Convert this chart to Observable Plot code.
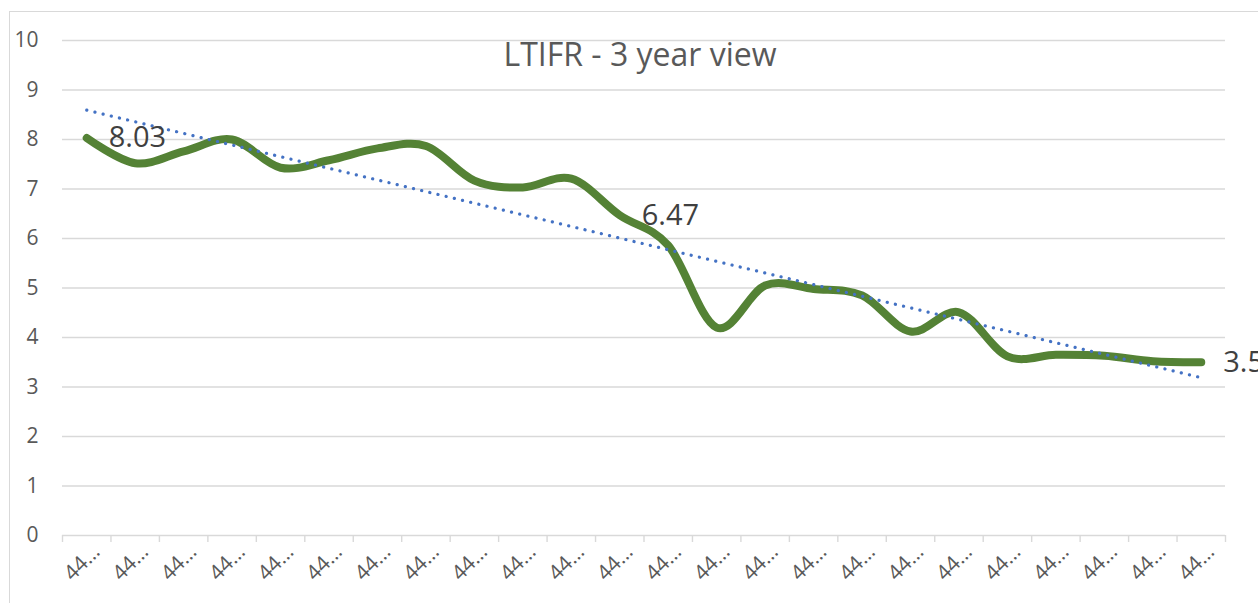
<!DOCTYPE html>
<html><head><meta charset="utf-8">
<script src="https://cdn.jsdelivr.net/npm/d3@7"></script>
<script src="https://cdn.jsdelivr.net/npm/@observablehq/plot@0.6"></script>
<style>
html,body{margin:0;padding:0;background:#fff;overflow:hidden;}
#wrap{position:relative;width:1258px;height:603px;overflow:hidden;}
#border{position:absolute;left:9px;top:11px;width:1400px;height:800px;border-left:1.5px solid #d9d9d9;border-top:1.5px solid #d9d9d9;pointer-events:none;}
</style></head><body>
<div id="wrap"><div id="chart"></div><div id="border"></div></div>
<script>
const title = "LTIFR - 3 year view";
const tickLabels = ["44…","44…","44…","44…","44…","44…","44…","44…","44…","44…","44…","44…",
                    "44…","44…","44…","44…","44…","44…","44…","44…","44…","44…","44…","44…"];
const ltifr = [8.03, 7.52, 7.76, 8.0, 7.43, 7.58, 7.82, 7.87, 7.17, 7.03, 7.21, 6.47,
               5.86, 4.2, 5.05, 4.98, 4.85, 4.12, 4.51, 3.62, 3.65, 3.63, 3.52, 3.5];
const labelledIdx = [0, 11, 23];
const yTicks = [0, 1, 2, 3, 4, 5, 6, 7, 8, 9, 10];

const data = ltifr.map((v, k) => ({i: k + 1, v, label: tickLabels[k]}));
const bounds = d3.range(0.5, data.length + 1, 1);
const labelled = labelledIdx.map(k => data[k]);

const chart = Plot.plot({
  width: 1258, height: 603,
  marginLeft: 62, marginRight: 33, marginTop: 40, marginBottom: 68,
  style: {fontFamily: "'Open Sans', sans-serif", background: "transparent", overflow: "visible"},
  x: {domain: [0.5, data.length + 0.5], axis: null},
  y: {domain: [0, 10], axis: null},
  marks: [
    Plot.ruleY(yTicks, {stroke: "#d9d9d9", strokeWidth: 1.4}),
    Plot.axisX(bounds, {tickSize: 7, tickFormat: () => "", stroke: "#d9d9d9", strokeWidth: 1.4, label: null}),
    Plot.axisY(yTicks, {tickSize: 0, tickPadding: 24, fontSize: 21, color: "#595959", tickFormat: d => String(d), label: null}),
    Plot.text(data, {x: "i", frameAnchor: "bottom", dy: 32, text: "label", rotate: -45, fontSize: 21, fill: "#595959"}),
    Plot.text([title], {frameAnchor: "top", dy: 15, dx: -4, lineAnchor: "middle", fontSize: 32, fill: "#595959"}),
    Plot.line(data, {x: "i", y: "v", stroke: "#548235", strokeWidth: 8, curve: "cardinal", strokeLinecap: "round", strokeLinejoin: "round"}),
    Plot.linearRegressionY(data, {x: "i", y: "v", ci: 0, stroke: "#4472C4", strokeWidth: 3.2, strokeDasharray: "0.1 8.3", strokeLinecap: "round"}),
    Plot.text(labelled, {x: "i", y: "v", text: d => String(d.v), dx: 22, textAnchor: "start", fontSize: 29, fill: "#404040"})
  ]
});
document.getElementById("chart").appendChild(chart);
</script>
</body></html>
